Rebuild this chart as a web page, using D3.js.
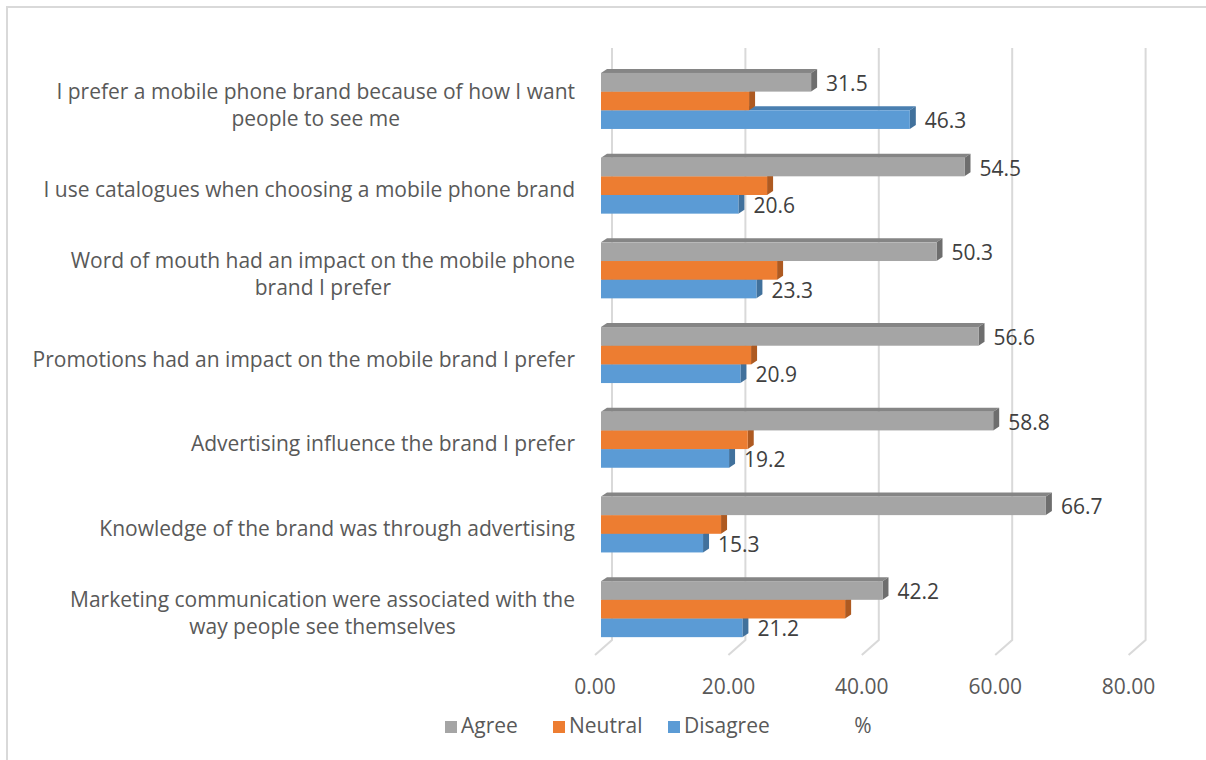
<!DOCTYPE html>
<html>
<head>
<meta charset="utf-8">
<script src="https://cdn.jsdelivr.net/npm/d3@7"></script>
<style>
  html, body { margin: 0; padding: 0; background: #fff; }
  svg { display: block; }
  text { font-family: "Open Sans", "Noto Sans", sans-serif; }
</style>
</head>
<body>
<svg id="chart" width="1206" height="760"></svg>
<script>
// Survey statements (top to bottom)
const categories = [
  ["I prefer a mobile phone brand because of how I want", "people to see me"],
  ["I use catalogues when choosing a mobile phone brand"],
  ["Word of mouth had an impact on the mobile phone", "brand I prefer"],
  ["Promotions had an impact on the mobile brand I prefer"],
  ["Advertising influence the brand I prefer"],
  ["Knowledge of the brand was through advertising"],
  ["Marketing communication were associated with the", "way people see themselves"]
];
const series = ["Agree", "Neutral", "Disagree"];
const agree    = [31.5, 54.5, 50.3, 56.6, 58.8, 66.7, 42.2];
const neutral  = [22.2, 24.9, 26.4, 22.5, 22.0, 18.0, 36.6];
const disagree = [46.3, 20.6, 23.3, 20.9, 19.2, 15.3, 21.2];
const labelled = [true, false, true];   // Neutral bars carry no value labels
const ticks = [0, 20, 40, 60, 80];
const axisTitle = "%";

const colors = {
  Agree:    { front: "#a5a5a5", top: "#858585", side: "#6e6e6e" },
  Neutral:  { front: "#ed7d31", top: "#c1641f", side: "#ae5a21" },
  Disagree: { front: "#5b9bd5", top: "#4a7fb0", side: "#41719c" }
};
const values = { Agree: agree, Neutral: neutral, Disagree: disagree };

const svg = d3.select("#chart");
const ink = "#595959";
const fs = 21;

// chart frame
svg.append("rect").attr("x", 7).attr("y", 7).attr("width", 1260).attr("height", 800)
  .attr("fill", "none").attr("stroke", "#d9d9d9").attr("stroke-width", 2);

// 3D layout: bars drawn on the front plane, gridlines on the back wall
const x = d3.scaleLinear().domain([0, 80]).range([601, 601 + 80 * 6.67]);
const wallShift = 11;            // back wall offset in x
const floorDx = -17, floorDy = 15;
const wallTop = 48, wallBottom = 640;
const depth = { dx: 6, dy: -4 };

const yCat = d3.scaleBand().domain(d3.range(categories.length)).range([58.6, 651.5]);
const ySer = d3.scaleBand().domain(series).range([0, 56]);

// gridlines (back wall + floor)
const grid = svg.append("g").attr("stroke", "#d9d9d9").attr("stroke-width", 2).attr("fill", "none");
ticks.forEach(t => {
  const xb = x(t) + wallShift;
  grid.append("path").attr("d", `M${xb},${wallTop}V${wallBottom}L${xb + floorDx},${wallBottom + floorDy}`);
});

// tick labels on the front edge of the floor
svg.append("g").selectAll("text").data(ticks).join("text")
  .attr("x", d => x(d) + wallShift + floorDx)
  .attr("y", 688)
  .attr("text-anchor", "middle")
  .attr("dominant-baseline", "middle")
  .attr("fill", ink).attr("font-size", fs)
  .text(d => d3.format(".2f")(d));

// bars: bottom series first so the bar above hides its top face
const offsetTop = (yCat.bandwidth() - 56) / 2;
const bars = svg.append("g");
categories.forEach((c, i) => {
  series.slice().reverse().forEach(s => {
    const v = values[s][i];
    const y0 = yCat(i) + offsetTop + ySer(s);
    const h = ySer.bandwidth();
    const x0 = x(0), x1 = x(v);
    const col = colors[s];
    const g = bars.append("g");
    g.append("path")
      .attr("d", `M${x0},${y0}L${x0 + depth.dx},${y0 + depth.dy}L${x1 + depth.dx},${y0 + depth.dy}L${x1},${y0}Z`)
      .attr("fill", col.top);
    g.append("path")
      .attr("d", `M${x1},${y0}L${x1 + depth.dx},${y0 + depth.dy}L${x1 + depth.dx},${y0 + h + depth.dy}L${x1},${y0 + h}Z`)
      .attr("fill", col.side);
    g.append("rect").attr("x", x0).attr("y", y0).attr("width", x1 - x0).attr("height", h)
      .attr("fill", col.front);
  });
});

// value labels
const vl = svg.append("g");
categories.forEach((c, i) => {
  series.forEach((s, k) => {
    if (!labelled[k]) return;
    const v = values[s][i];
    vl.append("text")
      .attr("x", x(v) + depth.dx + 9)
      .attr("y", yCat(i) + offsetTop + ySer(s) + ySer.bandwidth() / 2 + 3)
      .attr("dominant-baseline", "middle")
      .attr("fill", "#404040").attr("font-size", fs)
      .text(d3.format(".1f")(v));
  });
});

// category labels: block right-aligned at the axis, wrapped lines centred in the block
const labelRight = 575;
const cl = svg.append("g");
categories.forEach((lines, i) => {
  const cy = yCat(i) + offsetTop + 28 + 6;
  const lh = 27;
  const t = cl.append("text").attr("fill", ink).attr("font-size", fs);
  const spans = lines.map((ln, j) => t.append("tspan")
      .attr("y", cy + (j - (lines.length - 1) / 2) * lh)
      .attr("dominant-baseline", "middle")
      .text(ln));
  const maxW = d3.max(spans, sp => sp.node().getComputedTextLength());
  spans.forEach(sp => sp.attr("x", labelRight - maxW / 2).attr("text-anchor", "middle"));
});

// legend
const legendX = [445, 553, 668];
const lg = svg.append("g");
series.forEach((s, k) => {
  lg.append("rect").attr("x", legendX[k]).attr("y", 721).attr("width", 12).attr("height", 12)
    .attr("fill", colors[s].front);
  lg.append("text").attr("x", legendX[k] + 16).attr("y", 727).attr("dominant-baseline", "middle")
    .attr("fill", ink).attr("font-size", fs).text(s);
});

// axis title
svg.append("text").attr("x", 863).attr("y", 727).attr("text-anchor", "middle")
  .attr("dominant-baseline", "middle").attr("fill", ink).attr("font-size", fs).text(axisTitle);
</script>
</body>
</html>
